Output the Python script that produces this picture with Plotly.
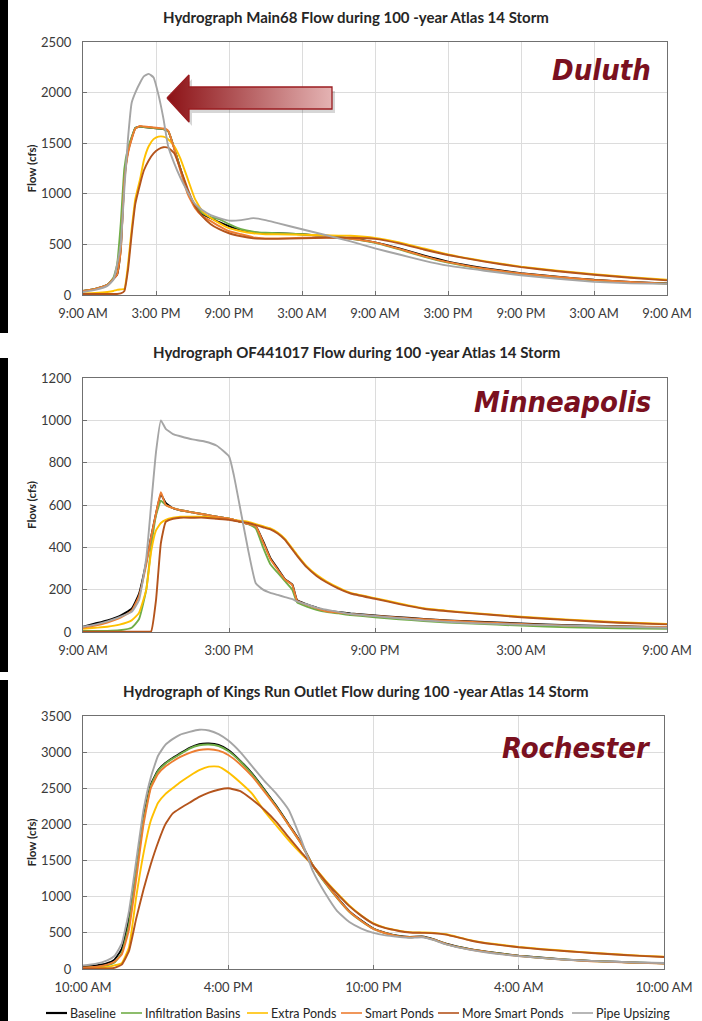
import pandas as pd
import plotly.graph_objects as go

W, H = 702, 1021

series_names = ["Baseline", "Infiltration Basins", "Extra Ponds", "Smart Ponds",
                "More Smart Ponds", "Pipe Upsizing"]
series_colors = ["#000000", "#70AD47", "#FFC000", "#ED7D31", "#B4541C", "#A5A5A5"]

# ---- Duluth: hours after 9:00 AM ----
duluth_hours = [0, 1, 2, 2.5, 2.8, 3.1, 3.4, 3.7, 4.0, 4.3, 4.7, 5.0, 5.4, 5.8, 6.2, 6.6, 7.0,
                7.5, 8.0, 8.6, 9.2, 9.8, 10.5, 11.2, 12, 13, 14, 15, 16, 18, 20, 22, 24, 26,
                28, 30, 33, 36, 39, 42, 45, 48]
duluth_baseline = [40, 60, 100, 160, 200, 450, 1150, 1420, 1550, 1650, 1665, 1660, 1655, 1650,
                   1645, 1640, 1620, 1450, 1250, 1020, 880, 800, 760, 720, 680, 640, 620, 610,
                   610, 600, 580, 560, 520, 460, 390, 330, 265, 215, 180, 150, 130, 115]
duluth_infiltration = [40, 60, 100, 170, 300, 700, 1250, 1450, 1560, 1650, 1665, 1660, 1655,
                       1650, 1645, 1640, 1620, 1450, 1250, 1030, 890, 810, 770, 750, 700, 650,
                       625, 615, 610, 600, 580, 555, 515, 450, 380, 320, 255, 208, 175, 145,
                       125, 112]
duluth_extra = [15, 20, 30, 40, 50, 55, 60, 300, 650, 950, 1150, 1330, 1470, 1540, 1565, 1565,
                1540, 1470, 1350, 1150, 950, 830, 760, 710, 660, 630, 610, 600, 600, 595, 590,
                585, 565, 520, 460, 400, 335, 280, 240, 205, 175, 150]
duluth_smart = [40, 60, 100, 160, 200, 430, 1120, 1400, 1540, 1645, 1670, 1665, 1660, 1655,
                1650, 1645, 1625, 1440, 1230, 1000, 860, 780, 730, 680, 630, 600, 570, 560,
                560, 565, 570, 555, 520, 455, 385, 325, 260, 212, 178, 148, 128, 112]
duluth_more_smart = [10, 10, 10, 10, 10, 15, 40, 250, 600, 900, 1100, 1230, 1330, 1400, 1440,
                     1460, 1455, 1400, 1250, 1050, 880, 780, 700, 650, 610, 580, 560, 555, 555,
                     560, 565, 565, 555, 510, 450, 395, 330, 275, 235, 200, 170, 145]
duluth_pipe = [30, 50, 90, 150, 300, 500, 1050, 1550, 1900, 2000, 2100, 2160, 2185, 2150, 1980,
               1750, 1470, 1300, 1160, 1020, 900, 840, 790, 760, 735, 740, 760, 740, 710, 650,
               590, 530, 460, 400, 340, 290, 240, 195, 160, 130, 115, 110]

# ---- Minneapolis: hours after 9:00 AM ----
mpls_hours = [0, 0.5, 1, 1.5, 2, 2.3, 2.6, 2.8, 3.0, 3.2, 3.4, 3.7, 4.0, 4.5, 5.0, 5.5, 6.0, 6.2,
              6.5, 6.8, 7.1, 7.4, 7.7, 8.0, 8.3, 8.6, 8.8, 9.2, 9.6, 10, 10.5, 11, 12, 13, 14,
              15, 16, 18, 20, 22, 24]
mpls_baseline = [25, 40, 55, 75, 110, 180, 330, 450, 560, 650, 610, 585, 575, 565, 555, 545,
                 535, 530, 520, 510, 500, 430, 350, 300, 250, 225, 150, 130, 115, 100, 95, 88,
                 78, 70, 62, 55, 50, 40, 32, 27, 22]
mpls_infiltration = [5, 5, 5, 8, 20, 60, 200, 400, 550, 620, 600, 585, 575, 565, 555, 545, 535,
                     530, 520, 510, 490, 400, 320, 280, 240, 200, 140, 120, 105, 95, 88, 80, 70,
                     60, 52, 45, 40, 30, 22, 18, 15]
mpls_extra = [15, 20, 25, 35, 55, 90, 200, 380, 480, 515, 530, 540, 545, 545, 545, 540, 535,
              530, 525, 520, 510, 500, 490, 470, 440, 395, 365, 310, 270, 240, 210, 185, 160,
              135, 112, 100, 90, 72, 58, 46, 38]
mpls_smart = [20, 30, 45, 65, 100, 170, 320, 450, 560, 660, 600, 585, 575, 565, 555, 545, 535,
              530, 520, 510, 500, 425, 345, 295, 248, 222, 148, 128, 112, 98, 92, 85, 76, 68,
              60, 53, 48, 38, 30, 26, 24]
mpls_more_smart = [2, 2, 2, 2, 2, 2, 2, 3, 150, 420, 520, 535, 540, 540, 540, 535, 530, 525, 520,
                   515, 505, 495, 485, 465, 435, 390, 360, 305, 265, 235, 205, 182, 157, 132,
                   110, 98, 88, 70, 56, 44, 36]
mpls_pipe = [25, 35, 50, 70, 95, 150, 350, 600, 850, 1000, 960, 935, 925, 910, 900, 880, 830,
             740, 560, 380, 230, 200, 185, 175, 165, 155, 145, 130, 115, 105, 95, 85, 75, 65,
             55, 48, 42, 35, 30, 25, 20]

# ---- Rochester: hours after 10:00 AM ----
roch_hours = [0, 0.5, 1, 1.3, 1.6, 1.9, 2.2, 2.5, 2.8, 3.1, 3.4, 3.7, 4.0, 4.4, 4.8, 5.2, 5.6,
              6.0, 6.5, 7.0, 7.5, 8.0, 8.5, 9.0, 9.5, 10, 10.5, 11, 11.5, 12, 12.5, 13, 13.5,
              14, 14.5, 15, 16, 17, 18, 19, 20, 21, 22, 23, 24]
roch_baseline = [30, 45, 80, 130, 280, 700, 1400, 2100, 2550, 2750, 2850, 2920, 2980, 3060,
                 3110, 3120, 3100, 3030, 2880, 2700, 2480, 2250, 2000, 1750, 1430, 1200, 990,
                 800, 670, 560, 500, 460, 445, 450, 410, 350, 275, 225, 185, 155, 130, 112, 100,
                 88, 80]
roch_infiltration = [15, 25, 50, 90, 220, 620, 1350, 2050, 2530, 2740, 2840, 2910, 2970, 3050,
                     3095, 3105, 3085, 3015, 2870, 2690, 2470, 2240, 1990, 1740, 1430, 1190,
                     980, 790, 660, 555, 495, 455, 440, 445, 405, 345, 272, 222, 182, 152, 128,
                     110, 98, 86, 78]
roch_extra = [15, 20, 30, 50, 80, 300, 1000, 1600, 2050, 2300, 2420, 2500, 2580, 2670, 2750,
              2800, 2800, 2720, 2580, 2420, 2180, 1980, 1780, 1600, 1430, 1230, 1050, 880, 740,
              630, 570, 535, 510, 505, 500, 480, 400, 345, 305, 275, 250, 225, 205, 185, 170]
roch_smart = [20, 30, 60, 100, 200, 550, 1250, 2000, 2500, 2700, 2800, 2870, 2930, 2990, 3030,
              3040, 3020, 2960, 2830, 2660, 2450, 2230, 1990, 1740, 1430, 1200, 985, 795, 665,
              555, 495, 455, 440, 445, 405, 345, 270, 220, 180, 150, 126, 108, 96, 85, 76]
roch_more_smart = [5, 5, 8, 15, 60, 250, 700, 1100, 1450, 1750, 2000, 2150, 2220, 2300, 2380,
                   2440, 2480, 2500, 2460, 2340, 2200, 2030, 1820, 1620, 1430, 1220, 1040, 870,
                   735, 625, 565, 530, 505, 500, 495, 475, 395, 340, 300, 270, 245, 222, 200,
                   182, 167]
roch_pipe = [50, 70, 120, 180, 350, 800, 1500, 2200, 2650, 2950, 3100, 3180, 3240, 3280, 3310,
             3300, 3250, 3160, 3000, 2800, 2600, 2420, 2200, 1800, 1350, 1050, 800, 650, 560,
             500, 465, 445, 430, 440, 400, 340, 265, 215, 178, 150, 128, 112, 100, 90, 84]

panels = [
    dict(title="Hydrograph Main68 Flow during 100 -year Atlas 14 Storm", city="Duluth",
         start="2019-06-01 09:00", hours=duluth_hours, span=48, ymax=2500, dy=500,
         series=[duluth_baseline, duluth_infiltration, duluth_extra, duluth_smart,
                 duluth_more_smart, duluth_pipe]),
    dict(title="Hydrograph OF441017 Flow during 100 -year Atlas 14 Storm", city="Minneapolis",
         start="2019-06-01 09:00", hours=mpls_hours, span=24, ymax=1200, dy=200,
         series=[mpls_baseline, mpls_infiltration, mpls_extra, mpls_smart, mpls_more_smart,
                 mpls_pipe]),
    dict(title="Hydrograph of Kings Run Outlet Flow during 100 -year Atlas 14 Storm",
         city="Rochester", start="2019-06-01 10:00", hours=roch_hours, span=24, ymax=3500,
         dy=500,
         series=[roch_baseline, roch_infiltration, roch_extra, roch_smart, roch_more_smart,
                 roch_pipe]),
]


def px(x):
    return x / W


def py(y):
    return 1 - y / H


# plot-area boxes in pixels (left, right, top, bottom), title y, city y, black strip
boxes = [(83, 667, 42, 295), (83, 667, 378, 632), (83, 664, 716, 969)]
title_y = [17, 352, 691]
city_y = [70, 402, 748]
strips = [(0, 333), (358, 672), (680, 1021)]

fig = go.Figure()
layout = dict(
    width=W, height=H, autosize=False,
    margin=dict(l=0, r=0, t=0, b=0, autoexpand=False),
    paper_bgcolor="white", plot_bgcolor="rgba(0,0,0,0)",
    showlegend=False,
    font=dict(family="Lato, Open Sans, sans-serif", size=13, color="#404040"),
)
shapes, annotations = [], []
tick_font = dict(family="Lato, Open Sans, sans-serif", size=13, color="#3A3A3A")

for i, p in enumerate(panels):
    n = "" if i == 0 else str(i + 1)
    start = pd.Timestamp(p["start"])
    t = start + pd.to_timedelta(p["hours"], unit="h")
    for name, color, vals in zip(series_names, series_colors, p["series"]):
        fig.add_trace(go.Scatter(
            x=t, y=vals, mode="lines", name=name,
            line=dict(color=color, width=1.9, shape="spline", smoothing=0.4),
            xaxis="x" + n, yaxis="y" + n, showlegend=False,
        ))
    l, r, tp, b = boxes[i]
    layout["xaxis" + n] = dict(
        domain=[px(l), px(r)], anchor="y" + n, type="date", automargin=False,
        range=[start, start + pd.Timedelta(hours=p["span"])],
        tick0=start, dtick=6 * 3600 * 1000, tickformat="%-I:%M %p",
        showgrid=True, gridcolor="#DCDCDC", gridwidth=1,
        showline=True, mirror=True, linecolor="#707070", linewidth=1.3,
        ticks="inside", ticklen=4, tickcolor="#707070",
        tickfont=tick_font, ticklabelstandoff=6, zeroline=False, fixedrange=True,
    )
    layout["yaxis" + n] = dict(
        domain=[py(b), py(tp)], anchor="x" + n, automargin=False,
        range=[0, p["ymax"]], dtick=p["dy"], tick0=0,
        showgrid=True, gridcolor="#DCDCDC", gridwidth=1,
        showline=True, mirror=True, linecolor="#707070", linewidth=1.3,
        ticks="inside", ticklen=4, tickcolor="#707070",
        tickfont=tick_font, ticklabelstandoff=8, zeroline=False, fixedrange=True,
    )
    annotations.append(dict(
        text="<b>%s</b>" % p["title"], xref="paper", yref="paper",
        x=px(356), y=py(title_y[i]), xanchor="center", yanchor="middle", showarrow=False,
        font=dict(family="Lato, Open Sans, sans-serif", size=15, color="#262626"),
    ))
    annotations.append(dict(
        text="<b>Flow (cfs)</b>", xref="paper", yref="paper", textangle=-90,
        x=px(31), y=py((tp + b) / 2), xanchor="center", yanchor="middle", showarrow=False,
        font=dict(family="Lato, Open Sans, sans-serif", size=11.5, color="#262626"),
    ))
    annotations.append(dict(
        text="<b><i>%s</i></b>" % p["city"], xref="paper", yref="paper",
        x=px(653), y=py(city_y[i]), xanchor="right", yanchor="middle", showarrow=False,
        font=dict(family="Liberation Sans Narrow, DejaVu Sans Condensed, sans-serif",
                  size=29, color="#7A1020"),
    ))
    s0, s1 = strips[i]
    shapes.append(dict(type="rect", xref="paper", yref="paper", x0=0, x1=px(8),
                       y0=py(s1), y1=py(s0), fillcolor="black", line=dict(width=0),
                       layer="above"))

# Legend drawn under the last panel
legend_text_x = [68, 143, 269, 363, 460, 594]
legend_y = 1013
for name, color, tx in zip(series_names, series_colors, legend_text_x):
    shapes.append(dict(type="line", xref="paper", yref="paper",
                       x0=px(tx - 22), x1=px(tx - 1), y0=py(legend_y), y1=py(legend_y),
                       line=dict(color=color, width=2.2 if color == "#000000" else 1.6)))
    annotations.append(dict(
        text=name, xref="paper", yref="paper", x=px(tx), y=py(legend_y),
        xanchor="left", yanchor="middle", showarrow=False,
        font=dict(family="Lato, Open Sans, sans-serif", size=12.5, color="#262626"),
    ))

# Highlight arrow pointing at the Duluth pipe-upsizing peak (pixel overlay)
arrow_x = [167, 189, 189, 332, 332, 189, 189, 167]
arrow_y = [98, 75, 87, 87, 109, 109, 122, 98]
fig.add_trace(go.Scatter(
    x=[v + 3 for v in arrow_x], y=[v + 4 for v in arrow_y], mode="lines", fill="toself",
    fillcolor="rgba(0,0,0,0.16)", line=dict(width=0), xaxis="x4", yaxis="y4",
    hoverinfo="skip", showlegend=False,
))
fig.add_trace(go.Scatter(
    x=arrow_x, y=arrow_y, mode="lines", fill="toself",
    fillgradient=dict(type="horizontal", colorscale=[[0, "#8C1216"], [1, "#E4B3B3"]]),
    line=dict(color="#9A1C20", width=1.3), xaxis="x4", yaxis="y4",
    hoverinfo="skip", showlegend=False,
))
layout["xaxis4"] = dict(domain=[0, 1], range=[0, W], visible=False, anchor="y4",
                        fixedrange=True, automargin=False)
layout["yaxis4"] = dict(domain=[0, 1], range=[H, 0], visible=False, anchor="x4",
                        fixedrange=True, automargin=False)

layout["shapes"] = shapes
layout["annotations"] = annotations
fig.update_layout(**layout)
# drop the browser's default 8px page margin so the figure fills the window
fig.write_html("out.html", config={"displayModeBar": False},
               post_script="document.body.style.margin='0';")
